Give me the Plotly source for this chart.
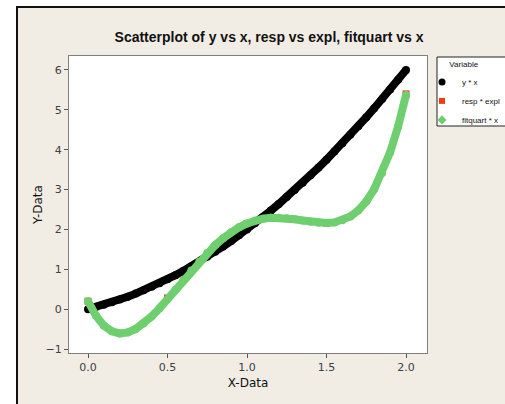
import plotly.graph_objects as go

# ---- data ----
x_vals = [0.00, 0.05, 0.10, 0.15, 0.20, 0.25, 0.30, 0.35, 0.40, 0.45,
          0.50, 0.55, 0.60, 0.65, 0.70, 0.75, 0.80, 0.85, 0.90, 0.95,
          1.00, 1.05, 1.10, 1.15, 1.20, 1.25, 1.30, 1.35, 1.40, 1.45,
          1.50, 1.55, 1.60, 1.65, 1.70, 1.75, 1.80, 1.85, 1.90, 1.95, 2.00]
y_vals = [0.0, 0.0525, 0.11, 0.1725, 0.24, 0.3125, 0.39, 0.4725, 0.56, 0.6525,
          0.75, 0.8525, 0.96, 1.0725, 1.19, 1.3125, 1.44, 1.5725, 1.71, 1.8525,
          2.0, 2.1525, 2.31, 2.4725, 2.64, 2.8125, 2.99, 3.1725, 3.36, 3.5525,
          3.75, 3.9525, 4.16, 4.3725, 4.59, 4.8125, 5.04, 5.2725, 5.51, 5.7525, 6.0]
fitquart = [0.200, -0.167, -0.414, -0.556, -0.609, -0.585, -0.498, -0.360, -0.183, 0.024,
            0.250, 0.488, 0.729, 0.967, 1.195, 1.409, 1.605, 1.779, 1.929, 2.053,
            2.150, 2.221, 2.268, 2.291, 2.294, 2.280, 2.254, 2.223, 2.192, 2.168,
            2.160, 2.176, 2.228, 2.324, 2.478, 2.702, 3.009, 3.414, 3.931, 4.577, 5.370]
expl = [0.0, 0.5, 1.0, 1.5, 2.0]
resp = [0.20, 0.28, 2.15, 2.16, 5.40]

x_ticks = [0.0, 0.5, 1.0, 1.5, 2.0]
y_ticks = [-1, 0, 1, 2, 3, 4, 5, 6]

BLACK = "#000000"
RED = "#f03c14"
GREEN = "#6fcf6f"
BEIGE = "#f1ede5"

fig = go.Figure()

# data series
fig.add_trace(go.Scatter(x=x_vals, y=y_vals, mode="lines+markers",
                         line=dict(color=BLACK, width=8),
                         marker=dict(color=BLACK, size=8, symbol="circle"),
                         showlegend=False))
fig.add_trace(go.Scatter(x=expl, y=resp, mode="markers",
                         marker=dict(color=RED, size=7, symbol="square"),
                         showlegend=False))
fig.add_trace(go.Scatter(x=x_vals, y=fitquart, mode="lines+markers",
                         line=dict(color=GREEN, width=8),
                         marker=dict(color=GREEN, size=8, symbol="circle"),
                         showlegend=False))

# legend entries
fig.add_trace(go.Scatter(x=[None], y=[None], mode="markers", name="y * x",
                         marker=dict(color=BLACK, size=7, symbol="circle")))
fig.add_trace(go.Scatter(x=[None], y=[None], mode="markers", name="resp * expl",
                         marker=dict(color=RED, size=6, symbol="square")))
fig.add_trace(go.Scatter(x=[None], y=[None], mode="markers", name="fitquart * x",
                         marker=dict(color=GREEN, size=7, symbol="diamond")))

L, R, T, B = 69, 78, 56, 51
W, H = 505, 404
pw, ph = W - L - R, H - T - B

def px(xp):
    return (xp - L) / pw

def py(yp):
    return (H - B - yp) / ph

shapes = [
    # white strips outside the outer frame
    dict(type="rect", xref="paper", yref="paper", x0=px(-20), x1=px(17), y0=py(430), y1=py(-20),
         fillcolor="white", line=dict(width=0), layer="above"),
    dict(type="rect", xref="paper", yref="paper", x0=px(-20), x1=px(530), y0=py(7), y1=py(-20),
         fillcolor="white", line=dict(width=0), layer="above"),
    # outer frame
    dict(type="rect", xref="paper", yref="paper", x0=px(17), x1=px(540), y0=py(440), y1=py(7),
         fillcolor="rgba(0,0,0,0)", line=dict(color="#111111", width=2), layer="above"),
    # legend box
    dict(type="rect", xref="paper", yref="paper", x0=px(437), x1=px(507), y0=py(126), y1=py(57),
         fillcolor="white", line=dict(color="#222222", width=1), layer="above"),
]

fig.update_layout(
    width=W, height=H,
    margin=dict(l=L, r=R, t=T, b=B, autoexpand=False),
    paper_bgcolor=BEIGE, plot_bgcolor="white",
    font=dict(family="DejaVu Sans", color="#333333"),
    title=dict(text="Scatterplot of y vs x, resp vs expl, fitquart vs x",
               x=269 / W, xanchor="center", y=1 - 37 / H, yanchor="middle",
               font=dict(family="Liberation Sans", size=14, color="#111111", weight="bold")),
    xaxis=dict(range=[-0.1195, 2.132], tickvals=x_ticks, tickformat=".1f",
               ticks="outside", ticklen=4, tickcolor="#555555",
               showline=True, mirror=True, linecolor="#808080", linewidth=1,
               showgrid=False, zeroline=False,
               tickfont=dict(size=11, color="#404040"),
               title=dict(text="X-Data", font=dict(size=12, color="#111111"), standoff=5)),
    yaxis=dict(range=[-1.100, 6.351], tickvals=y_ticks,
               ticks="outside", ticklen=4, tickcolor="#555555",
               showline=True, mirror=True, linecolor="#808080", linewidth=1,
               showgrid=False, zeroline=False,
               tickfont=dict(size=11, color="#404040"),
               title=dict(text="Y-Data", font=dict(size=12, color="#111111"), standoff=0)),
    legend=dict(x=px(422), xanchor="left", y=py(57), yanchor="top",
                bgcolor="rgba(0,0,0,0)", borderwidth=0, tracegroupgap=0,
                font=dict(family="Liberation Sans", size=8, color="#111111"),
                title=dict(text="Variable", side="top center",
                           font=dict(family="Liberation Sans", size=8, color="#111111")),
                itemwidth=30),
    shapes=shapes,
    showlegend=True,
)

fig.write_html("out.html", config={"displayModeBar": False},
               post_script="document.body.style.margin='0';document.body.style.overflow='hidden';")
